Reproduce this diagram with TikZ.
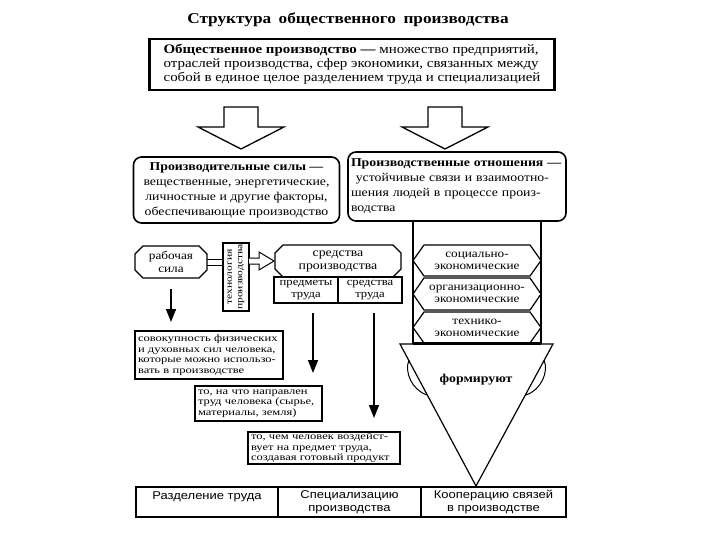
\documentclass[tikz,border=0pt]{standalone}
\usepackage{fontspec}
\setmainfont[FakeStretch=1.15]{Liberation Serif}
\newfontfamily\sansfam[FakeStretch=1.15]{Liberation Sans}
\newfontfamily\wideser[FakeStretch=1.28]{Liberation Serif}
\usetikzlibrary{shapes.misc,arrows.meta,calc}
\newcommand{\myfTitle}{\bfseries\fontsize{15}{17}\selectfont}
\newcommand{\myfTop}{\fontsize{13}{14}\selectfont}
\newcommand{\myfMid}{\fontsize{12}{15}\selectfont}
\newcommand{\myfHex}{\fontsize{11.5}{12}\selectfont}
\newcommand{\myfSm}{\wideser\fontsize{9.8}{10.5}\selectfont}
\newcommand{\myfBot}{\sansfam\fontsize{11.3}{13.5}\selectfont}
\begin{document}
\begin{tikzpicture}[x=1pt,y=-1pt,
  every node/.style={inner sep=0pt,outer sep=0pt},
  bigarr/.style={draw,line width=1.3pt,fill=white,line join=miter},
  rbox/.style={draw,rounded corners=8pt,line width=1.6pt},
  sbox/.style={draw,line width=1.2pt},
  cbox/.style={draw,line width=1.3pt,chamfered rectangle,chamfered rectangle xsep=5pt},
  hex/.style={draw,line width=1.2pt},
  lad/.style={line width=1.6pt},
  arr/.style={line width=1.5pt,-{Triangle[length=13pt,width=10pt]}},
]
\useasboundingbox (0,0) rectangle (720,540);

\node[font=\myfTitle] (title) at (348,20) {Структура\hspace{0.5em}общественного\hspace{0.5em}производства};

\node[draw,line width=2.5pt,minimum width=405pt,minimum height=51pt,font=\myfTop,align=left] (top) at (352,64.5)
 {\textbf{Общественное производство —} множество предприятий,\\отраслей производства, сфер экономики, связанных между\\собой в единое целое разделением труда и специализацией};

% block arrows
\draw[bigarr] (224,107) -- (258,107) -- (258,127) -- (284,127) -- (241,149) -- (198,127) -- (224,127) -- cycle;
\draw[bigarr] (428,107) -- (462,107) -- (462,127) -- (488,127) -- (445,149) -- (402,127) -- (428,127) -- cycle;

% productive forces / relations
\node[rbox,minimum width=206pt,minimum height=66pt,align=center,font=\myfMid] (ps) at (236.5,190)
 {\textbf{Производительные силы —}\\вещественные, энергетические,\\личностные и другие факторы,\\обеспечивающие производство};
\node[rbox,minimum width=218pt,minimum height=69pt,text width=212pt,align=left,font=\myfMid] (po) at (457,186.5)
 {\textbf{Производственные отношения —}\\\hspace{0.4em}устойчивые связи и взаимоотно-\\шения людей в процессе произ-\\водства};

% ladder
\draw[lad] (413,221) -- (413,344);
\draw[lad] (541,221) -- (541,344);
\draw[hex] (413,260.5) -- (424,245) -- (530,245) -- (541,260.5) -- (530,276) -- (424,276) -- cycle;
\draw[hex] (413,294) -- (424,278) -- (530,278) -- (541,294) -- (530,310) -- (424,310) -- cycle;
\draw[hex] (413,327.5) -- (424,312) -- (530,312) -- (541,327.5) -- (530,343) -- (424,343) -- cycle;
\node[font=\myfHex,align=center] (h1) at (477,260.5) {социально-\\экономические};
\node[font=\myfHex,align=center] (h2) at (477,294) {организационно-\\экономические};
\node[font=\myfHex,align=center] (h3) at (477,327.5) {технико-\\экономические};

% funnel triangle
\draw[line width=1.2pt,fill=white,line join=miter] (400,344) -- (553,344) -- (476,486) -- cycle;
\draw[line width=3pt] (413,343) -- (541,343);
\draw[line width=1pt] (409,360) .. controls (404,372) and (412,390) .. (427,395);
\draw[line width=1pt] (544,360) .. controls (549,372) and (541,390) .. (526,395);
\node[font=\bfseries\fontsize{12}{14}\selectfont] (form) at (476,380) {формируют};

% labour force, technology, means of production
\node[cbox,minimum width=72pt,minimum height=32pt,align=center,font=\fontsize{11.5}{13}\selectfont] (rs) at (171,262) {рабочая\\сила};
\node[sbox,minimum width=26pt,minimum height=68pt] (tech) at (236,277) {};
\node[rotate=90,align=center,font=\wideser\fontsize{9}{10.5}\selectfont] (techtxt) at (tech.center) {технология\\производства};
\node[cbox,minimum width=126pt,minimum height=32pt,align=center,font=\fontsize{12}{13}\selectfont] (sp) at (338,261) {средства\\производства};
\node[sbox,minimum width=64pt,minimum height=26pt,align=center,font=\fontsize{11}{11.5}\selectfont,anchor=north west] (pt) at (274,277) {предметы\\труда};
\node[sbox,minimum width=64pt,minimum height=26pt,align=center,font=\fontsize{11}{11.5}\selectfont,anchor=north west] (st) at (pt.north east) {средства\\труда};

\draw[line width=1pt] ([yshift=3pt]rs.east) -- ([yshift=3pt]rs.east -| tech.west);
\draw[line width=1pt] ([yshift=-3pt]rs.east) -- ([yshift=-3pt]rs.east -| tech.west);
\coordinate (ha) at (tech.east |- sp.west);
\draw[line width=1pt,fill=white,line join=miter] (ha) ++(0,-3) -- ++(10,0) -- ++(0,-6) -- ++(15,9) -- ++(-15,9) -- ++(0,-6) -- ++(-10,0);

% explanation boxes
\node[sbox,minimum width=148pt,minimum height=48pt,text width=142pt,align=left,font=\myfSm] (sov) at (209,355)
 {совокупность физических\\и духовных сил человека,\\которые можно использо-\\вать в производстве};
\node[sbox,minimum width=127pt,minimum height=35pt,text width=121pt,align=left,font=\myfSm] (nan) at (258.5,403.5)
 {то, на что направлен\\труд человека (сырье,\\материалы, земля)};
\node[sbox,minimum width=152pt,minimum height=32pt,text width=146pt,align=left,font=\myfSm] (chem) at (324,448)
 {то, чем человек воздейст-\\вует на предмет труда,\\создавая готовый продукт};

\draw[arr,shorten >=9pt] ([yshift=-11pt]rs.south) -- (rs.south |- sov.north);
\draw[arr,shorten >=13pt] ([xshift=7pt,yshift=-10pt]pt.south) -- ([xshift=7pt]pt.south |- nan.north);
\draw[arr,shorten >=14pt] ([xshift=4pt,yshift=-10pt]st.south) -- ([xshift=4pt]st.south |- chem.north);

% bottom row
\node[sbox,minimum width=142pt,minimum height=30pt,align=center,font=\myfBot] (b1) at (207,502) {Разделение труда\\\phantom{x}};
\node[sbox,minimum width=143pt,minimum height=30pt,align=center,font=\myfBot,anchor=west] (b2) at (b1.east) {Специализацию\\производства};
\node[sbox,minimum width=145pt,minimum height=30pt,align=center,font=\myfBot,anchor=west] (b3) at (b2.east) {Кооперацию связей\\в производстве};
\end{tikzpicture}
\end{document}
